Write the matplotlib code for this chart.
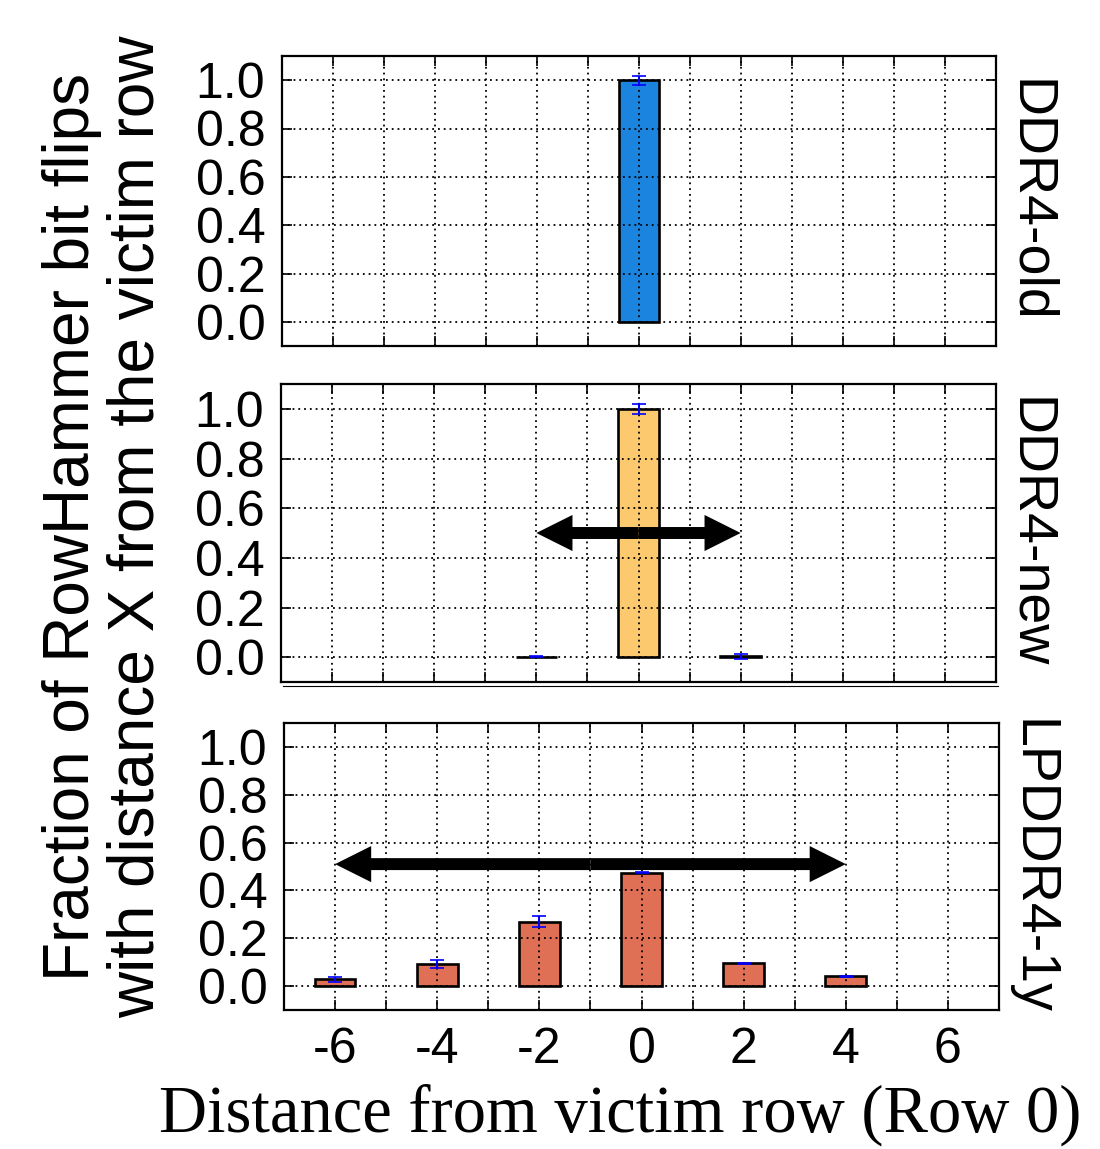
import matplotlib
matplotlib.use('Agg')
import matplotlib.pyplot as plt
from matplotlib.lines import Line2D

### Data
distances = [-6, -4, -2, 0, 2, 4]
ddr4_old = [0, 0, 0, 1.0, 0, 0]
ddr4_old_err = [0, 0, 0, 0.018, 0, 0]
ddr4_new = [0, 0, 0.002, 1.0, 0.003, 0]
ddr4_new_err = [0, 0, 0.003, 0.02, 0.01, 0]
lpddr4 = [0.028, 0.091, 0.269, 0.474, 0.095, 0.042]
lpddr4_err = [0.012, 0.016, 0.024, 0.003, 0.003, 0.002]

panel_names = ['DDR4-old', 'DDR4-new', 'LPDDR4-1y']
panel_colors = ['#1a84df', '#fcc96e', '#e07055']
arrow_spans = [None, (-2, 2), (-6, 4)]
arrow_height = [None, 0.5, 0.51]

x_ticks = list(range(-7, 8))
x_tick_labels = ['' if t % 2 else str(t) for t in x_ticks]
y_ticks = [0.0, 0.2, 0.4, 0.6, 0.8, 1.0]
y_tick_labels = ['0.0', '0.2', '0.4', '0.6', '0.8', '1.0']

plt.rcParams['font.family'] = ['Liberation Sans', 'DejaVu Sans']

W, H = 1100, 1149
fig = plt.figure(figsize=(W / 100, H / 100), dpi=100)

# axes boxes in pixels: left, right, top, bottom
boxes = [(282, 996, 56, 346), (281, 996, 384, 682), (284, 999, 723, 1010)]
series = [(ddr4_old, ddr4_old_err), (ddr4_new, ddr4_new_err), (lpddr4, lpddr4_err)]


def add_arrow(ax, span, y):
    '''Double headed arrow drawn as two simple arrows from the middle.'''
    mid = (span[0] + span[1]) / 2
    style = 'simple,head_length=2.6,head_width=2.6,tail_width=0.86'
    for end in span:
        ax.annotate('', xy=(end, y), xytext=(mid, y),
                    arrowprops=dict(arrowstyle=style, fc='black', ec='none',
                                    shrinkA=0, shrinkB=0, mutation_scale=10),
                    zorder=6)


for i, (l, r, t, b) in enumerate(boxes):
    ax = fig.add_axes([l / W, 1 - b / H, (r - l) / W, (b - t) / H])
    vals, errs = series[i]
    # only the distances that had any flips get a bar
    keep = [k for k, v in enumerate(vals) if v > 0]
    xs = [distances[k] for k in keep]
    ys = [vals[k] for k in keep]
    es = [errs[k] for k in keep]
    ax.bar(xs, ys, width=0.8, color=panel_colors[i], edgecolor='black',
           linewidth=1.9, zorder=1)
    ax.errorbar(xs, ys, yerr=es, fmt='none', ecolor='blue',
                elinewidth=1.5, capsize=5, capthick=1.2, zorder=4)
    ax.set_xlim(-7, 7)
    ax.set_ylim(-0.1, 1.1)
    ax.set_xticks(x_ticks)
    ax.set_yticks(y_ticks)
    ax.set_yticklabels(y_tick_labels)
    if i == 2:
        ax.set_xticklabels(x_tick_labels)
    else:
        ax.set_xticklabels([])
    ax.tick_params(direction='in', length=7, width=1.2, top=True, right=True,
                   labelsize=36, pad=12)
    ax.tick_params(axis='x', pad=12)
    ax.set_axisbelow(False)
    ax.grid(True, color='black', linestyle=(0, (1, 2.2)), linewidth=1.3, zorder=3)
    for sp in ax.spines.values():
        sp.set_linewidth(1.6)
    ax.annotate(panel_names[i], xy=(1, 0.5), xycoords='axes fraction',
                xytext=(5, 0), textcoords='offset points', rotation=-90,
                ha='left', va='center', fontsize=40)
    if arrow_spans[i]:
        add_arrow(ax, arrow_spans[i], arrow_height[i])

# thin separator under the middle panel
fig.add_artist(Line2D([283 / W, 998 / W], [1 - 686 / H, 1 - 686 / H],
                      color='black', linewidth=0.8))

fig.text(104 / W, 1 - 527 / H,
         'Fraction of RowHammer bit flips\nwith distance X from the victim row',
         rotation=90, ha='center', va='center', fontsize=46, linespacing=1.1,
         multialignment='center')
fig.text(620 / W, 1 - 1132 / H, 'Distance from victim row (Row 0)',
         ha='center', va='baseline', fontsize=48, family='Liberation Serif')

fig.savefig('out.png', dpi=100)
